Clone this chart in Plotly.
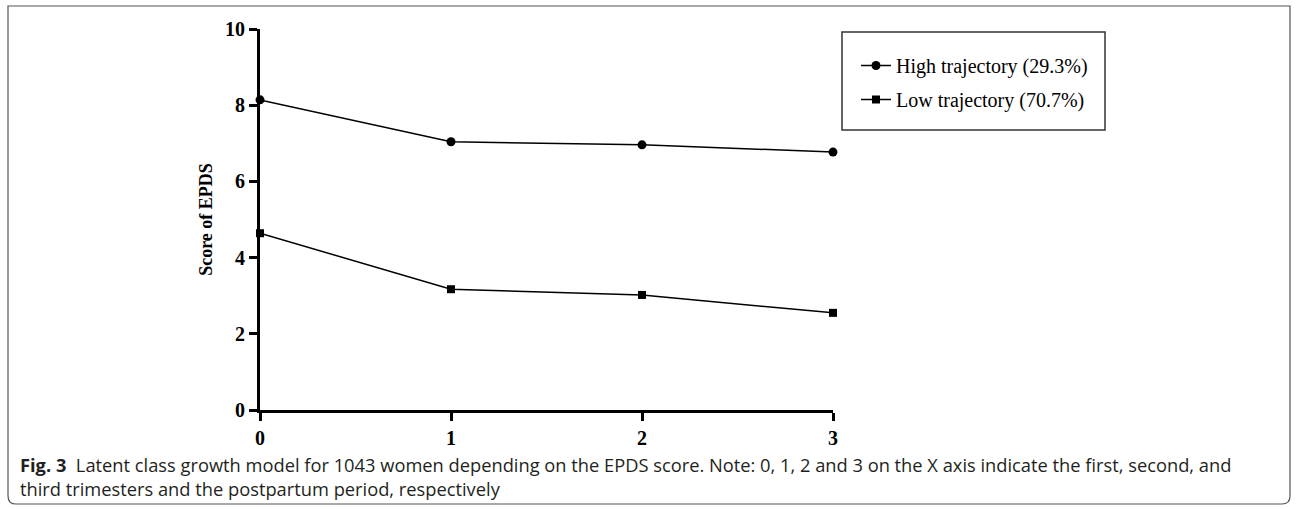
import plotly.graph_objects as go

# ---- data ----
time_points = [0, 1, 2, 3]
tick_labels = ["0", "1", "2", "3"]
high_scores = [8.14, 7.04, 6.96, 6.77]
low_scores = [4.64, 3.17, 3.02, 2.55]
series_names = ["High trajectory (29.3%)", "Low trajectory (70.7%)"]
y_ticks = [0, 2, 4, 6, 8, 10]
y_title = "Score of EPDS"
caption_line1 = ("<b>Fig. 3</b>  Latent class growth model for 1043 women depending on the EPDS score. "
                 "Note: 0, 1, 2 and 3 on the X axis indicate the first, second, and")
caption_line2 = "third trimesters and the postpartum period, respectively"

# ---- layout geometry (pixels) ----
W, H = 1298, 509
L, R, T, B = 260, 833, 29, 410
pw, ph = R - L, B - T

def px(x):
    return (x - L) / pw

def py(y):
    return (B - y) / ph

fig = go.Figure()
fig.add_trace(go.Scatter(
    x=time_points, y=high_scores, name=series_names[0], mode="lines+markers",
    legendgroup="g1",
    line=dict(color="black", width=1.5),
    marker=dict(symbol="circle", size=9, color="black"),
    cliponaxis=False,
))
fig.add_trace(go.Scatter(
    x=time_points, y=low_scores, name=series_names[1], mode="lines+markers",
    legendgroup="g2",
    line=dict(color="black", width=1.5),
    marker=dict(symbol="square", size=8, color="black"),
    cliponaxis=False,
))

serif_bold = dict(family="Liberation Serif", size=20, color="black", weight="bold")

fig.update_layout(
    width=W, height=H,
    margin=dict(l=L, r=W - R, t=T, b=H - B, pad=0),
    paper_bgcolor="white", plot_bgcolor="white",
    showlegend=True,
    legend=dict(
        x=px(856), y=py(46), xanchor="left", yanchor="top",
        borderwidth=0, bgcolor="rgba(0,0,0,0)",
        font=dict(family="Liberation Serif", size=20, color="black"),
        traceorder="grouped", tracegroupgap=5,
    ),
    xaxis=dict(
        range=[0, 3], tickvals=time_points, ticktext=tick_labels,
        showline=True, linecolor="black", linewidth=3, mirror=False,
        ticks="outside", ticklen=8, tickwidth=3, tickcolor="black",
        showgrid=False, zeroline=False, tickfont=serif_bold,
    ),
    yaxis=dict(
        range=[0, 10], tickvals=y_ticks,
        showline=True, linecolor="black", linewidth=3,
        ticks="outside", ticklen=8, tickwidth=3, tickcolor="black",
        showgrid=False, zeroline=False, tickfont=serif_bold,
        title=dict(text=y_title,
                   font=dict(family="Liberation Serif", size=18, color="black", weight="bold"),
                   standoff=8),
    ),
)

# legend frame
fig.add_shape(type="rect", xref="paper", yref="paper",
              x0=px(842), x1=px(1105), y0=py(130), y1=py(32),
              line=dict(color="#333333", width=1.5), fillcolor="rgba(0,0,0,0)")

# caption
cap_font = dict(family="Open Sans", size=18.3, color="#231f20")
fig.add_annotation(x=px(18), y=py(464), xref="paper", yref="paper", text=caption_line1,
                   showarrow=False, xanchor="left", yanchor="middle", font=cap_font)
fig.add_annotation(x=px(18), y=py(488), xref="paper", yref="paper", text=caption_line2,
                   showarrow=False, xanchor="left", yanchor="middle", font=cap_font)

# outer frame with rounded bottom corners
x0, x1, y0, y1 = px(8), px(1290), py(6), py(504)
rx, ry = 8 / pw, 8 / ph
path = (f"M {x0},{y0} L {x1},{y0} L {x1},{y1 + ry} Q {x1},{y1} {x1 - rx},{y1} "
        f"L {x0 + rx},{y1} Q {x0},{y1} {x0},{y1 + ry} Z")
fig.add_shape(type="path", path=path, xref="paper", yref="paper",
              line=dict(color="#555555", width=1.2), layer="below")

fig.write_html("out.html", config={"displayModeBar": False},
               post_script="document.body.style.margin='0px';document.body.style.overflow='hidden';")
